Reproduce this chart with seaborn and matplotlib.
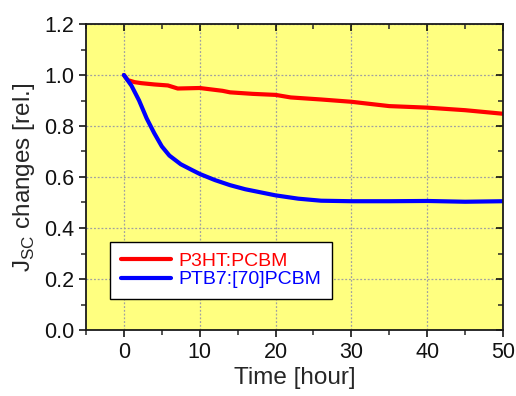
import matplotlib
matplotlib.use("Agg")
import matplotlib.pyplot as plt
import seaborn as sns
import pandas as pd
from matplotlib.ticker import MultipleLocator

# ---- data ----
time_p3ht = [0, 0.5, 1.4, 2.3, 4, 5.8, 7.1, 10, 13, 14, 17, 20, 22, 26, 30, 35, 40, 45, 50]
jsc_p3ht = [1.0, 0.98, 0.972, 0.968, 0.963, 0.959, 0.947, 0.949, 0.938, 0.932,
            0.926, 0.922, 0.912, 0.904, 0.895, 0.878, 0.872, 0.862, 0.848]
time_ptb7 = [0, 1, 2, 3, 4, 5, 6, 7.5, 9, 10, 12, 14, 16, 18, 20, 23, 26, 30, 35, 40, 45, 50]
jsc_ptb7 = [1.0, 0.958, 0.90, 0.83, 0.772, 0.72, 0.684, 0.65, 0.627, 0.612, 0.588,
            0.568, 0.552, 0.54, 0.528, 0.515, 0.507, 0.505, 0.505, 0.506, 0.503, 0.505]
series_names = ["P3HT:PCBM", "PTB7:[70]PCBM"]
series_colors = ["#FF0000", "#0000FF"]

df = pd.concat([
    pd.DataFrame({"time": time_p3ht, "jsc": jsc_p3ht, "series": series_names[0]}),
    pd.DataFrame({"time": time_ptb7, "jsc": jsc_ptb7, "series": series_names[1]}),
])

sns.set_style("ticks")
plt.rcParams["font.family"] = ["Liberation Sans", "DejaVu Sans"]
plt.rcParams["mathtext.fontset"] = "custom"
plt.rcParams["mathtext.rm"] = "Liberation Sans"

fig = plt.figure(figsize=(5.16, 3.96), dpi=100)
ax = fig.add_axes([86/516, (396-330)/396, 417/516, 306/396])
ax.set_facecolor("#FFFF80")

sns.lineplot(data=df, x="time", y="jsc", hue="series", hue_order=series_names,
             palette=series_colors, linewidth=3.0, ax=ax, sort=False)

ax.set_xlim(-5, 50)
ax.set_ylim(0.0, 1.2)
ax.xaxis.set_major_locator(MultipleLocator(10))
ax.xaxis.set_minor_locator(MultipleLocator(5))
ax.yaxis.set_major_locator(MultipleLocator(0.2))
ax.yaxis.set_minor_locator(MultipleLocator(0.1))
ax.yaxis.set_major_formatter(matplotlib.ticker.FormatStrFormatter("%.1f"))

ax.grid(True, which="major", color="#A0A0A0", linestyle=(0, (1.5, 1.5)), linewidth=0.9)

ax.tick_params(axis="both", which="major", direction="out", length=5, width=1.1,
               labelsize=15.5, color="black", labelcolor="#111111")
ax.tick_params(axis="both", which="minor", direction="out", length=3.5, width=1.1)
ax.tick_params(axis="x", which="both", top=True)
ax.tick_params(axis="y", which="both", right=True)

# inward ticks on top and right
for tick in ax.xaxis.get_major_ticks() + ax.xaxis.get_minor_ticks():
    tick.tick2line.set_marker(matplotlib.lines.TICKDOWN)
for tick in ax.yaxis.get_major_ticks() + ax.yaxis.get_minor_ticks():
    tick.tick2line.set_marker(matplotlib.lines.TICKLEFT)

for s in ax.spines.values():
    s.set_linewidth(1.3)
    s.set_color("#1a1a1a")

ax.set_xlabel("Time [hour]", fontsize=17.5, labelpad=3)
ax.set_ylabel(r"J$_{\mathregular{SC}}$ changes [rel.]", fontsize=17.5, labelpad=5)

leg = ax.legend(loc="lower left", bbox_to_anchor=(0.0576, 0.101), borderaxespad=0,
                fontsize=14, frameon=True, fancybox=False, framealpha=1,
                edgecolor="black", handlelength=2.6, handletextpad=0.35,
                borderpad=0.55, labelspacing=0.05)
leg.get_frame().set_linewidth(1.0)
for txt, c in zip(leg.get_texts(), series_colors):
    txt.set_color(c)
for line in leg.get_lines():
    line.set_linewidth(3.0)

fig.savefig("out.png", dpi=100)
